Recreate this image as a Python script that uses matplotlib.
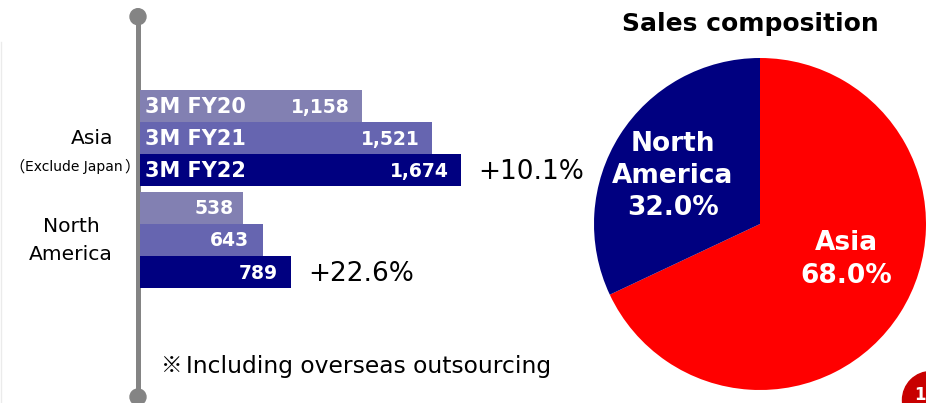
import matplotlib
matplotlib.use("Agg")
import matplotlib.pyplot as plt
from matplotlib.patches import Circle

W, H = 926, 403
periods = ["3M FY20", "3M FY21", "3M FY22"]
asia = [1158, 1521, 1674]
north_america = [538, 643, 789]
asia_labels = ["1,158", "1,521", "1,674"]
na_labels = ["538", "643", "789"]
pie_labels = ["Asia\n68.0%", "North\nAmerica\n32.0%"]
pie_values = [68.0, 32.0]
growth = ["+10.1%", "+22.6%"]

plt.rcParams['font.family'] = ['DejaVu Sans']
colors = ["#8280B2", "#6665B0", "#000080"]
fig = plt.figure(figsize=(W/100, H/100), dpi=100)

bg = fig.add_axes([0, 0, 1, 1]); bg.set_xlim(0, W); bg.set_ylim(H, 0); bg.axis('off')
bg.plot([0.5, 0.5], [42, H], color="#EBEBEB", lw=1)
bg.plot([138, 138], [16, 396], color="#848484", lw=3.6, solid_capstyle='butt')
bg.add_patch(Circle((138, 16.7), 8, color="#848484"))
bg.add_patch(Circle((138, 397), 8, color="#848484"))
bg.add_patch(Circle((931, 400), 28.5, color="#C80000"))
bg.text(914, 395, "1", color="white", fontsize=12, fontweight='bold', ha='left', va='center')

ax = fig.add_axes([140/W, 0, 1-140/W, 1])
ax.set_xlim(0, (W-140)/0.1918); ax.set_ylim(H, 0); ax.axis('off'); ax.patch.set_alpha(0)
asia_y = [105.5, 137.5, 169.5]
na_y = [207.5, 239.5, 272]
ax.barh(asia_y, asia, height=32, color=colors)
ax.barh(na_y, north_america, height=32, color=colors)
px = 1/0.1918
for y, p, v, l in zip(asia_y, periods, asia, asia_labels):
    ax.text(5*px, y+1.5, p, color="white", fontsize=15, fontweight='bold', va='center', ha='left')
    ax.text(v-12*px, y+1.5, l, color="white", fontsize=13.5, fontweight='bold', va='center', ha='right')
for y, v, l, off in zip(na_y, north_america, na_labels, [10, 14, 13]):
    ax.text(v-off*px, y+1.5, l, color="white", fontsize=13.5, fontweight='bold', va='center', ha='right')
ax.text(1674+17*px, 172, growth[0], fontsize=19, va='center', ha='left')
ax.text(789+17*px, 274, growth[1], fontsize=19, va='center', ha='left')

bg.text(113, 138, "Asia", fontsize=14.6, ha='right', va='center', zorder=5)
bg.text(9, 167, "（", fontsize=11, ha='left', va='center', family=['Noto Sans CJK JP'])
bg.text(73.5, 167, "Exclude Japan", fontsize=10, ha='center', va='center')
bg.text(124, 167, "）", fontsize=11, ha='left', va='center', family=['Noto Sans CJK JP'])
bg.text(71, 226, "North", fontsize=14.6, ha='center', va='center')
bg.text(71, 255, "America", fontsize=14.6, ha='center', va='center')
bg.text(161, 366, "※", fontsize=15.5, ha='left', va='center', family=['Noto Sans CJK JP', 'DejaVu Sans'])
bg.text(186, 366, "Including overseas outsourcing", fontsize=16.8, ha='left', va='center')
bg.text(750, 24, "Sales composition", fontsize=18, fontweight='bold', ha='center', va='center')

r = 166
pa = fig.add_axes([(760-r)/W, 1-(224+r)/H, 2*r/W, 2*r/H])
pa.pie(pie_values, colors=["#FF0000", "#000080"], startangle=90, counterclock=False, radius=1)
pa.set_xlim(-1, 1); pa.set_ylim(-1, 1)
pa.text(0.518, -0.214, pie_labels[0], color="white", fontsize=19, fontweight='bold', ha='center', va='center', linespacing=1.31)
pa.text(-0.524, 0.289, pie_labels[1], color="white", fontsize=19, fontweight='bold', ha='center', va='center', linespacing=1.31)

fig.savefig("out.png", dpi=100)
